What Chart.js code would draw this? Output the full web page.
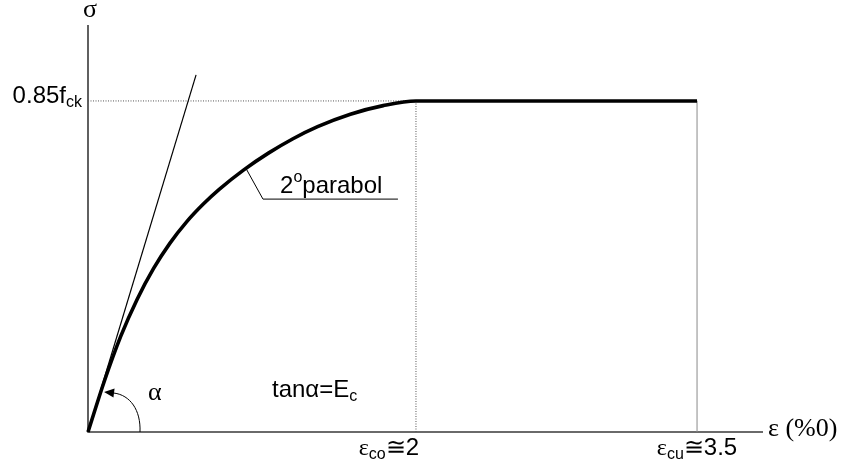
<!DOCTYPE html>
<html>
<head>
<meta charset="utf-8">
<script src="https://cdn.jsdelivr.net/npm/chart.js@4.4.1/dist/chart.umd.min.js"></script>
<style>
  html, body { margin: 0; padding: 0; background: #fff; }
  #wrap { width: 843px; height: 472px; }
</style>
</head>
<body>
<div id="wrap"><canvas id="c" width="843" height="472"></canvas></div>
<script>
// Idealised stress–strain diagram of concrete: parabolic branch up to ε_co,
// then constant stress 0.85 f_ck up to the ultimate strain ε_cu.
const strain = [0, 0.1, 0.2, 0.3, 0.4, 0.5, 0.6, 0.7, 0.8, 0.95, 1.1, 1.25, 1.4, 1.6, 1.8, 2.0, 3.5];
const stress = [0, 0.131, 0.246, 0.341, 0.420, 0.485, 0.539, 0.584, 0.623, 0.673, 0.716, 0.753, 0.784, 0.816, 0.838, 0.85, 0.85];

// initial tangent (slope = E_c)
const tangentStrain = [0, 0.659];
const tangentStress = [0, 0.917];

const epsCo = 2.0;        // strain at peak stress (‰)
const epsCu = 3.5;        // ultimate strain (‰)
const peakStress = 0.85;  // × f_ck

// axis extents
const strainAxisEnd = 3.852;
const stressAxisEnd = 1.045;

// tick labels: main text, subscript, trailing text
const xTickValues = [epsCo, epsCu];
const xTickLabels = [['ε', 'co', '≅2'], ['ε', 'cu', '≅3.5']];
const yTickValues = [peakStress];
const yTickLabels = [['0.85f', 'ck', '']];

// "2°parabol" callout: point on the curve, elbow, end of the underline
const calloutStrain = [0.963, 1.067, 1.89];
const calloutStress = [0.677, 0.598, 0.598];

// the plastic plateau is drawn stretched (schematic, not to scale)
const PLATEAU_STRETCH = 1.1426;
const warp = v => v <= epsCo ? v : epsCo + (v - epsCo) * PLATEAU_STRETCH;
const unwarp = w => w <= epsCo ? w : epsCo + (w - epsCo) / PLATEAU_STRETCH;

class StrainScale extends Chart.LinearScale {
  getPixelForValue(v) { return super.getPixelForValue(warp(v)); }
  getValueForPixel(p) { return unwarp(super.getValueForPixel(p)); }
}
StrainScale.id = 'strain';
StrainScale.defaults = Chart.LinearScale.defaults;
Chart.register(StrainScale);

const zip = (xs, ys) => xs.map((x, i) => ({ x, y: ys[i] }));

const SANS = '"Liberation Sans", Arial, Helvetica, sans-serif';
const SERIF = '"Liberation Serif", "Times New Roman", serif';

function drawRuns(ctx, runs, x, y, align) {
  let total = 0;
  runs.forEach(r => { ctx.font = r.font; r.w = r.t ? ctx.measureText(r.t).width : 0; total += r.w; });
  let cx = align === 'right' ? x - total : align === 'center' ? x - total / 2 : x;
  runs.forEach(r => {
    if (r.t) { ctx.font = r.font; ctx.fillText(r.t, cx, y + (r.dy || 0)); }
    cx += r.w;
  });
}

const diagramDecor = {
  id: 'diagramDecor',
  beforeDatasetsDraw(chart) {
    const { ctx } = chart;
    const xs = chart.scales.x, ys = chart.scales.y;
    const x0 = xs.getPixelForValue(0), y0 = ys.getPixelForValue(0);
    ctx.save();
    ctx.strokeStyle = '#3a3a3a';
    ctx.lineWidth = 1.6;
    ctx.beginPath();
    ctx.moveTo(x0, ys.getPixelForValue(stressAxisEnd));
    ctx.lineTo(x0, y0);
    ctx.lineTo(xs.getPixelForValue(strainAxisEnd), y0);
    ctx.stroke();
    ctx.restore();
  },
  afterDatasetsDraw(chart) {
    const { ctx } = chart;
    const xs = chart.scales.x, ys = chart.scales.y;
    const px = v => xs.getPixelForValue(v);
    const py = v => ys.getPixelForValue(v);
    const x0 = px(0), y0 = py(0);
    ctx.save();
    ctx.fillStyle = '#000';
    ctx.textAlign = 'left';
    ctx.textBaseline = 'alphabetic';

    // axis titles
    ctx.font = '26px ' + SERIF;
    ctx.textAlign = 'center';
    ctx.fillText('σ', x0 + 2, py(stressAxisEnd) - 8);
    ctx.textAlign = 'left';
    ctx.textBaseline = 'middle';
    ctx.fillText('ε (%0)', px(strainAxisEnd) + 5, y0 - 3);
    ctx.textBaseline = 'alphabetic';

    // strain ticks
    xTickValues.forEach((v, i) => {
      const [m, s, t] = xTickLabels[i];
      const runs = [
        { t: m, font: '24px ' + SERIF },
        { t: s, font: '16px ' + SANS, dy: 4 },
        { t: t, font: '24px ' + SANS }
      ];
      const align = i === 0 ? 'right' : 'center';
      drawRuns(ctx, runs, px(v) + (i === 0 ? 3 : 0), y0 + 23, align);
    });

    // stress tick
    yTickValues.forEach((v, i) => {
      const [m, s, t] = yTickLabels[i];
      drawRuns(ctx, [
        { t: m, font: '24px ' + SANS },
        { t: s, font: '16px ' + SANS, dy: 4 },
        { t: t, font: '24px ' + SANS }
      ], x0 - 6, py(v) + 2, 'right');
    });

    // callout text
    drawRuns(ctx, [
      { t: '2', font: '24px ' + SANS },
      { t: 'o', font: '16px ' + SANS, dy: -11 },
      { t: 'parabol', font: '24px ' + SANS }
    ], px(1.171), py(0.614), 'left');

    // tan α = E_c
    drawRuns(ctx, [
      { t: 'tanα=E', font: '24px ' + SANS },
      { t: 'c', font: '16px ' + SANS, dy: 4 }
    ], px(1.122), py(0.090), 'left');

    // angle α with arrow
    ctx.font = '26px ' + SERIF;
    ctx.fillText('α', px(0.366), py(0.082));

    const sx = px(0.317), sy = py(0);
    const tx = px(0.098), ty = py(0.103);
    const c1x = sx + 1, c1y = sy - 22;
    const c2x = sx - 10, c2y = sy - 37;
    const dx = tx - c2x, dy = ty - c2y, len = Math.hypot(dx, dy);
    const ux = dx / len, uy = dy / len;
    const bx = tx - ux * 10, by = ty - uy * 10;
    ctx.strokeStyle = '#000';
    ctx.lineWidth = 1;
    ctx.beginPath();
    ctx.moveTo(sx, sy);
    ctx.bezierCurveTo(c1x, c1y, c2x, c2y, bx, by);
    ctx.stroke();
    ctx.beginPath();
    ctx.moveTo(tx, ty);
    ctx.lineTo(bx - uy * 4.5, by + ux * 4.5);
    ctx.lineTo(bx + uy * 4.5, by - ux * 4.5);
    ctx.closePath();
    ctx.fill();
    ctx.restore();
  }
};

new Chart(document.getElementById('c'), {
  type: 'line',
  data: {
    datasets: [
      {
        label: 'σ–ε',
        data: zip(strain, stress),
        borderColor: '#000',
        borderWidth: 3.6,
        cubicInterpolationMode: 'monotone',
        pointRadius: 0,
        clip: false
      },
      {
        label: 'tangent',
        data: zip(tangentStrain, tangentStress),
        borderColor: '#000',
        borderWidth: 1.2,
        pointRadius: 0,
        clip: false
      },
      {
        label: 'callout',
        data: zip(calloutStrain, calloutStress),
        borderColor: '#000',
        borderWidth: 1,
        pointRadius: 0,
        tension: 0
      },
      {
        label: 'peak level',
        data: [{ x: 0, y: peakStress }, { x: epsCo, y: peakStress }],
        borderColor: '#555',
        borderWidth: 1,
        borderDash: [1, 1.5],
        pointRadius: 0
      },
      {
        label: 'ε_co',
        data: [{ x: epsCo, y: 0 }, { x: epsCo, y: peakStress }],
        borderColor: '#555',
        borderWidth: 1,
        borderDash: [1, 1.5],
        pointRadius: 0
      },
      {
        label: 'ε_cu',
        data: [{ x: epsCu, y: 0 }, { x: epsCu, y: peakStress }],
        borderColor: '#8a8a8a',
        borderWidth: 1,
        pointRadius: 0
      }
    ]
  },
  options: {
    responsive: false,
    animation: false,
    events: [],
    layout: { padding: { left: 88, right: 80, top: 25, bottom: 40 } },
    scales: {
      x: { type: 'strain', display: false, min: 0, max: warp(strainAxisEnd), bounds: 'data' },
      y: { type: 'linear', display: false, min: 0, max: stressAxisEnd, bounds: 'data' }
    },
    plugins: {
      legend: { display: false },
      tooltip: { enabled: false }
    }
  },
  plugins: [diagramDecor]
});
</script>
</body>
</html>
